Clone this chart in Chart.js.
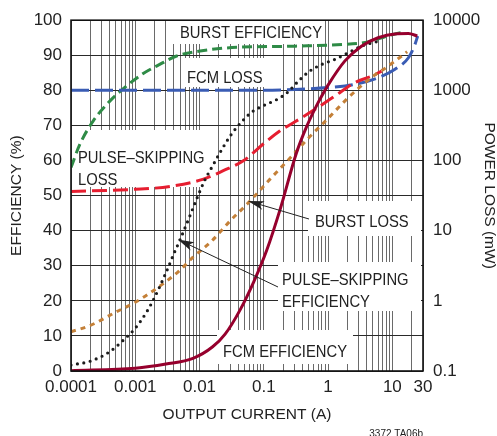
<!DOCTYPE html>
<html>
<head>
<meta charset="utf-8">
<script src="https://cdn.jsdelivr.net/npm/chart.js@4.4.1/dist/chart.umd.min.js"></script>
<style>
  body { margin: 0; background: #fff; }
  canvas { display: block; }
</style>
</head>
<body>
<canvas id="myChart" width="497" height="436"></canvas>
<script>
// tick labels
const currentLabels = [0.0001, 0.001, 0.01, 0.1, 1, 10, 30];
const lossTicks = [0.1, 1, 10, 100, 1000, 10000];

// FCM efficiency (%)
const fcmEffI = [0.0001, 0.001, 0.003, 0.0079, 0.016, 0.025, 0.043, 0.07, 0.111, 0.179, 0.32, 0.46, 0.7, 1.0, 1.83, 3.3, 6, 11, 17.8, 24.5];
const fcmEff = [0.1, 0.8, 2, 3.6, 6.9, 10.5, 17.5, 25.5, 34.4, 46, 62, 69.5, 76.5, 81.5, 88.4, 92.6, 95, 96.1, 96.2, 95.5];

// burst efficiency (%)
const burstEffI = [0.0001, 0.000138, 0.000222, 0.000405, 0.000736, 0.00133, 0.0024, 0.0044, 0.0102, 0.0265, 0.31, 1.83, 3.3, 5, 7.7, 12.4, 16];
const burstEff = [58, 64.7, 71.3, 77, 81.3, 84.8, 87.4, 89.8, 91.2, 92.1, 92.6, 93.1, 93.5, 94.2, 95.3, 96.3, 96.6];

// pulse-skipping efficiency (%)
const psEffI = [0.0001, 0.0002, 0.0004, 0.0007, 0.001, 0.0015, 0.002, 0.003, 0.004, 0.005, 0.007, 0.009, 0.012, 0.016, 0.022, 0.03, 0.043, 0.065, 0.1, 0.16, 0.23, 0.34, 0.5, 0.8, 1.3, 2, 3.3, 6];
const psEff = [1.7, 2.8, 5.5, 9.3, 12.2, 16.8, 21, 28, 33.5, 37.5, 44, 49, 54.3, 58.5, 63, 67, 70.6, 73.8, 75.7, 77.4, 79.3, 82.5, 85.3, 87.4, 88.9, 90.6, 92.6, 94];

// FCM loss (mW)
const fcmLossI = [0.0001, 0.01, 0.1, 0.3, 1, 2.6, 6, 11, 17.8, 22.5, 24.8];
const fcmLoss = [1000, 1000, 1005, 1030, 1096, 1216, 1514, 1995, 2917, 4519, 5957];

// pulse-skipping loss (mW)
const psLossI = [0.0001, 0.001, 0.0035, 0.0115, 0.0234, 0.048, 0.098, 0.179, 0.31, 0.625, 1.28, 2.6, 4.8, 6.8];
const psLoss = [36.3, 38.9, 42.7, 54.3, 71.6, 98.9, 171.8, 266, 359, 537, 832, 1288, 1603, 1884];

// burst loss (mW)
const burstLossI = [0.0001, 0.0002, 0.0005, 0.001, 0.0025, 0.005, 0.008, 0.015, 0.03, 0.06, 0.125, 0.25, 0.5, 1, 2, 5, 8, 14, 17];
const burstLoss = [0.363, 0.447, 0.692, 0.955, 1.66, 2.75, 4.22, 6.92, 13.8, 26.0, 54.3, 105.9, 211, 398, 767, 1585, 2113, 3090, 3548];

const pts = (xs, ys) => xs.map((x, i) => ({x: x, y: ys[i]}));

// vertical grid: 1..9 per decade
const gridCurrents = [];
for (let d = -4; d <= 0; d++) {
    for (let m = 1; m <= 9; m++) gridCurrents.push(Number((m * Math.pow(10, d)).toPrecision(2)));
}
gridCurrents.push(10, 20, 30);

Chart.defaults.font.family = "'Liberation Sans', Arial, sans-serif";
Chart.defaults.color = '#222';

const line = (label, data, color, axis, dash, extra) => Object.assign({
    label: label,
    data: data,
    yAxisID: axis,
    borderColor: color,
    borderWidth: 3,
    borderDash: dash,
    pointRadius: 0,
    fill: false,
    cubicInterpolationMode: 'monotone'
}, extra || {});

const notes = [
    {box: [173, 20, 151, 24], lines: ['BURST EFFICIENCY'], x: 180, y: 38},
    {box: [182, 58, 88, 29], lines: ['FCM LOSS'], x: 187, y: 83},
    {box: [72, 130, 146, 57], lines: ['PULSE\u2013SKIPPING', 'LOSS'], x: 78, y: 163},
    {box: [308, 201, 113, 35], lines: ['BURST LOSS'], x: 315, y: 227},
    {box: [278, 262, 143, 49], lines: ['PULSE\u2013SKIPPING', 'EFFICIENCY'], x: 282, y: 285},
    {box: [217, 330, 136, 34], lines: ['FCM EFFICIENCY'], x: 223, y: 357}
];
const arrows = [
    {from: [309, 219], to: [248, 201]},
    {from: [278, 287], to: [178, 239.5]}
];

const notesPlugin = {
    id: 'notes',
    beforeDatasetsDraw(chart) {
        const ctx = chart.ctx;
        ctx.save();
        ctx.fillStyle = '#fff';
        notes.forEach(n => ctx.fillRect(n.box[0], n.box[1], n.box[2], n.box[3]));
        ctx.restore();
    },
    afterDatasetsDraw(chart) {
        const ctx = chart.ctx;
        const a = chart.chartArea;
        ctx.save();
        ctx.fillStyle = '#222';
        ctx.font = "17px 'Liberation Sans', Arial, sans-serif";
        ctx.textBaseline = 'alphabetic';
        notes.forEach(n => {
            n.lines.forEach((t, i) => {
                ctx.save();
                ctx.translate(n.x, n.y + i * 22);
                ctx.scale(0.87, 1);
                ctx.fillText(t, 0, 0);
                ctx.restore();
            });
        });
        // arrows
        ctx.strokeStyle = '#222';
        ctx.lineWidth = 1;
        arrows.forEach(ar => {
            const [x1, y1] = ar.from, [x2, y2] = ar.to;
            const ang = Math.atan2(y2 - y1, x2 - x1);
            ctx.beginPath();
            ctx.moveTo(x1, y1);
            ctx.lineTo(x2 - 10 * Math.cos(ang), y2 - 10 * Math.sin(ang));
            ctx.stroke();
            ctx.beginPath();
            ctx.moveTo(x2, y2);
            ctx.lineTo(x2 - 16 * Math.cos(ang) + 4.5 * Math.sin(ang), y2 - 16 * Math.sin(ang) - 4.5 * Math.cos(ang));
            ctx.lineTo(x2 - 12 * Math.cos(ang), y2 - 12 * Math.sin(ang));
            ctx.lineTo(x2 - 16 * Math.cos(ang) - 4.5 * Math.sin(ang), y2 - 16 * Math.sin(ang) + 4.5 * Math.cos(ang));
            ctx.closePath();
            ctx.fill();
        });
        // frame
        ctx.strokeStyle = '#111';
        ctx.lineWidth = 1.6;
        ctx.strokeRect(a.left, a.top, a.right - a.left, a.bottom - a.top);
        // figure id
        ctx.font = "10px 'Liberation Sans', Arial, sans-serif";
        ctx.textAlign = 'right';
        ctx.textBaseline = 'top';
        ctx.fillText('3372 TA06b', a.right, 429);
        ctx.restore();
    }
};

new Chart(document.getElementById('myChart'), {
    type: 'line',
    data: {
        datasets: [
            line('FCM EFFICIENCY', pts(fcmEffI, fcmEff), 'rgb(150,0,45)', 'y', []),
            line('PULSE-SKIPPING EFFICIENCY', pts(psEffI, psEff), '#1c1c1c', 'y', [0, 6.5], {borderCapStyle: 'round', borderWidth: 3.2}),
            line('BURST LOSS', pts(burstLossI, burstLoss), 'rgb(196,128,56)', 'y2', [5, 5]),
            line('PULSE-SKIPPING LOSS', pts(psLossI, psLoss), 'rgb(230,30,48)', 'y2', [15, 6]),
            line('FCM LOSS', pts(fcmLossI, fcmLoss), 'rgb(58,92,180)', 'y2', [18, 6]),
            line('BURST EFFICIENCY', pts(burstEffI, burstEff), 'rgb(46,139,70)', 'y', [10, 5])
        ]
    },
    options: {
        responsive: false,
        animation: false,
        devicePixelRatio: 1,
        layout: {padding: {top: 19, left: 0, right: 0, bottom: 0}},
        plugins: {legend: {display: false}, tooltip: {enabled: false}},
        scales: {
            x: {
                type: 'logarithmic',
                min: 0.0001,
                max: 30,
                afterBuildTicks: s => { s.ticks = gridCurrents.map(v => ({value: v})); },
                afterFit: s => { s.height = 65; },
                grid: {color: '#6a6a6a', lineWidth: 1, drawTicks: false},
                border: {display: false},
                ticks: {
                    autoSkip: false,
                    maxRotation: 0,
                    padding: 6,
                    font: {size: 17},
                    callback: v => currentLabels.includes(v) ? String(v) : ''
                },
                title: {display: true, text: 'OUTPUT CURRENT (A)', font: {size: 15.5, lineHeight: 1}, padding: {top: 0, bottom: 14}}
            },
            y: {
                type: 'linear',
                position: 'left',
                min: 0,
                max: 100,
                afterFit: s => { s.width = 71; },
                grid: {color: '#2a2a2a', lineWidth: 1, drawTicks: false},
                border: {display: false},
                ticks: {stepSize: 10, padding: 9, font: {size: 17}},
                title: {display: true, text: 'EFFICIENCY (%)', font: {size: 15.5, lineHeight: 1}, padding: {top: 9, bottom: 0}}
            },
            y2: {
                type: 'logarithmic',
                position: 'right',
                min: 0.1,
                max: 10000,
                afterBuildTicks: s => { s.ticks = lossTicks.map(v => ({value: v})); },
                afterFit: s => { s.width = 74; },
                grid: {display: false, drawTicks: false},
                border: {display: false},
                ticks: {padding: 10, font: {size: 17}, callback: v => String(v)},
                title: {display: true, text: 'POWER LOSS (mW)', font: {size: 15.5, lineHeight: 1}, padding: {top: 0, bottom: 0}}
            }
        }
    },
    plugins: [notesPlugin]
});
</script>
</body>
</html>
